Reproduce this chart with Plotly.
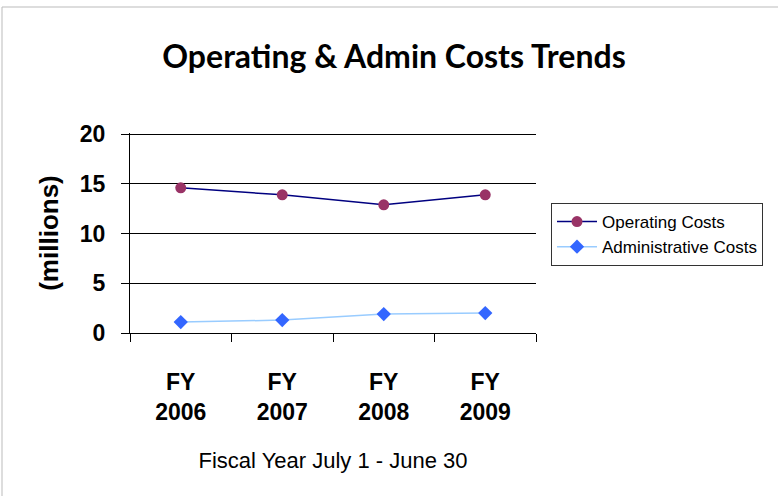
import plotly.graph_objects as go

categories = ["FY<br>2006", "FY<br>2007", "FY<br>2008", "FY<br>2009"]
operating_costs = [14.6, 13.9, 12.9, 13.9]
admin_costs = [1.1, 1.3, 1.9, 2.0]
y_ticks = [0, 5, 10, 15, 20]

fig = go.Figure()
fig.add_trace(go.Scatter(
    x=categories, y=operating_costs, name="Operating Costs", mode="lines+markers",
    line=dict(color="#000080", width=1.5),
    marker=dict(symbol="circle", size=11, color="#993366", line=dict(color="#993366", width=0)),
))
fig.add_trace(go.Scatter(
    x=categories, y=admin_costs, name="Administrative Costs", mode="lines+markers",
    line=dict(color="#99CCFF", width=1.5),
    marker=dict(symbol="diamond", size=11, color="#3366FF", line=dict(width=0)),
))

L, R, T, B = 130, 536, 133, 333
W, H = 778, 496
pw, ph = R - L, B - T

def px(x):
    return (x - L) / pw

def py(y):
    return (B - y) / ph

fig.update_layout(
    width=W, height=H,
    margin=dict(l=L, r=W - R, t=T, b=H - B, pad=0),
    paper_bgcolor="white", plot_bgcolor="white",
    font=dict(family="Arial, Liberation Sans, sans-serif", color="black"),
    title=dict(text="<b>Operating & Admin Costs Trends</b>",
               font=dict(family="Lato, Noto Sans, sans-serif", size=32, color="black"),
               x=px(394), xanchor="center", xref="paper",
               y=1 - 57 / H, yanchor="middle"),
    showlegend=True,
    legend=dict(x=px(551), y=py(203), xanchor="left", yanchor="top",
                bordercolor="#333333", borderwidth=1, bgcolor="white",
                font=dict(size=17, family="Arial, Liberation Sans, sans-serif"),
                tracegroupgap=0, itemwidth=40),
    xaxis=dict(
        type="category", tickson="boundaries", ticks="outside", ticklen=8,
        tickcolor="black", tickwidth=1, showgrid=False, showline=True,
        linecolor="black", linewidth=1, ticklabelstandoff=28,
        tickfont=dict(size=23, family="Arial, Liberation Sans, sans-serif", weight="bold"),
        title=dict(text="Fiscal Year July 1 - June 30", font=dict(size=22), standoff=29),
        range=[-0.5, 3.5],
    ),
    yaxis=dict(
        range=[0, 20.12], tickvals=y_ticks, ticks="outside", ticklen=8,
        tickcolor="black", showgrid=True, gridcolor="black", gridwidth=1,
        showline=True, linecolor="black", linewidth=1, zeroline=True, zerolinecolor="black",
        ticklabelstandoff=11,
        tickfont=dict(size=23, family="Arial, Liberation Sans, sans-serif", weight="bold"),
        title=dict(text="<b>(millions)</b>", font=dict(size=26), standoff=13),
    ),
    shapes=[dict(type="rect", xref="paper", yref="paper",
                 x0=px(2), x1=px(790), y0=py(510), y1=py(7),
                 line=dict(color="#BBBBBB", width=1), layer="below")],
)

fig.write_html("out.html", config={"displayModeBar": False},
               post_script="document.body.style.margin='0';")
